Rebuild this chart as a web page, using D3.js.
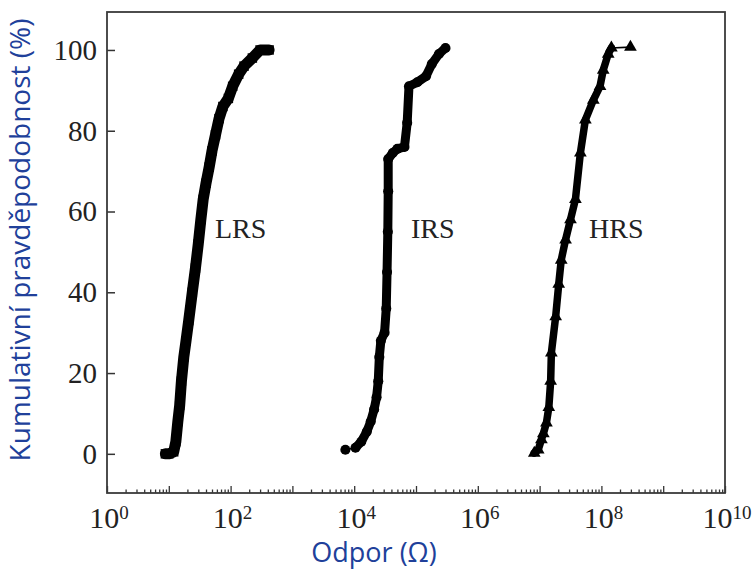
<!doctype html>
<html>
  <head>
    <meta charset="utf-8">
    <script src="https://cdn.jsdelivr.net/npm/d3@7"></script>
    <style>
      body { margin: 0; background: #fff; }
      .tick text { font-family: "Liberation Serif", "DejaVu Serif", serif; fill: #222; }
      .axis-title { font-family: "Open Sans", "Noto Sans", sans-serif; fill: #20409a; }
      .state { font-family: "Liberation Serif", serif; font-size: 28px; fill: #222; }
    </style>
  </head>
  <body>
    <script>
        // resistance (ohm) vs cumulative probability (%)
        var lrsR = [8.8, 10, 12, 13, 14, 15, 16, 17.5, 19, 21, 24, 27, 30, 33, 36, 40, 45, 50, 57, 65, 75, 92, 108, 135, 165, 225, 300, 420];
        var lrsP = [0, 0, 0.5, 3, 8, 12, 18, 24, 28, 33, 40, 46, 52, 58, 63, 67, 71, 75, 79, 83, 86, 88, 91, 94, 96, 98, 100, 100];

        var irsR = [7200, 10500, 13000, 16000, 18500, 21000, 23000, 24500, 25500, 27000, 31000, 33000, 34000, 35000, 35500, 35500, 42000, 50000, 65000, 72000, 77000, 105000, 145000, 180000, 235000, 300000];
        var irsP = [1, 1.5, 3, 5.5, 8, 11, 14, 18, 24, 28, 30, 36, 45, 55, 65, 73, 74.5, 75.5, 76, 82, 91, 92, 93.5, 96.5, 99, 100.5];

        var hrsR = [8.2e6, 9.5e6, 1.07e7, 1.15e7, 1.29e7, 1.41e7, 1.51e7, 1.55e7, 1.82e7, 2.04e7, 2.24e7, 2.63e7, 3.16e7, 3.8e7, 4.57e7, 5.5e7, 7.4e7, 9.5e7, 1.07e8, 1.29e8, 1.45e8, 2.95e8];
        var hrsP = [0.2, 1, 3.5, 5, 7.7, 11.5, 18, 25, 34, 42, 48, 53, 58, 63, 74.5, 82.7, 87.6, 91, 95, 99, 100.5, 100.7];

        var yTicks = [0, 20, 40, 60, 80, 100];
        var xLabelExp = [0, 2, 4, 6, 8, 10];

        var width = 755, height = 571;
        var svg = d3.select("body").append("svg")
            .attr("width", width)
            .attr("height", height);

        var x = d3.scaleLog().domain([1, 1e10]).range([107, 725]);
        var y = d3.scaleLinear().domain([-9.7, 109.4]).range([493, 12]);

        // x axis: a tick at every 1..9 x 10^k, pointing inwards
        var xTickVals = [];
        for (var k = 0; k < 10; k++) {
            for (var m = 1; m < 10; m++) xTickVals.push(m * Math.pow(10, k));
        }
        xTickVals.push(1e10);

        var gx = svg.append("g")
            .attr("transform", "translate(0,493)")
            .call(d3.axisBottom(x).tickValues(xTickVals).tickSize(-7).tickFormat(""));
        gx.select(".domain").remove();
        gx.selectAll(".tick line")
            .attr("stroke", "#333")
            .attr("stroke-width", 1.3)
            .attr("y2", d => (Math.abs(Math.log10(d) % 1) < 1e-9) ? -7 : -3.5);

        // x tick labels 10^n
        var xl = svg.append("g").selectAll("text")
            .data(xLabelExp)
            .enter().append("text")
            .attr("x", d => x(Math.pow(10, d)) + 2)
            .attr("y", 528)
            .attr("text-anchor", "middle")
            .style("font-family", "'Liberation Serif', serif")
            .style("font-size", "30px")
            .attr("fill", "#222");
        xl.append("tspan").text("10");
        xl.append("tspan")
            .attr("dy", "-0.5em")
            .style("font-size", "19px")
            .text(d => d);

        var gy = svg.append("g")
            .attr("transform", "translate(107,0)")
            .call(d3.axisLeft(y).tickValues(yTicks).tickSize(-8));
        gy.select(".domain").remove();
        gy.selectAll(".tick line").attr("stroke", "#333").attr("stroke-width", 1.5);
        gy.selectAll(".tick text")
            .attr("x", -10)
            .style("font-size", "29px");

        // frame
        svg.append("rect")
            .attr("x", 107).attr("y", 12)
            .attr("width", 725 - 107).attr("height", 493 - 12)
            .attr("fill", "none")
            .attr("stroke", "#3a3a3a")
            .attr("stroke-width", 1.8);

        var series = [
            { name: "LRS", r: lrsR, p: lrsP, shape: d3.symbolSquare, size: 90, body: [0, lrsR.length], width: 11, label: [215, 238] },
            { name: "IRS", r: irsR, p: irsP, shape: d3.symbolCircle, size: 80, body: [1, irsR.length], width: 9, label: [411, 238] },
            { name: "HRS", r: hrsR, p: hrsP, shape: d3.symbolTriangle, size: 70, body: [0, hrsR.length - 1], width: 7.5, label: [589, 238] }
        ];

        var line = d3.line()
            .x(d => x(d[0]))
            .y(d => y(d[1]));

        series.forEach(function(s) {
            var pts = s.r.map((r, i) => [r, s.p[i]]);
            var g = svg.append("g");

            g.append("path")
                .attr("d", line(pts))
                .attr("fill", "none")
                .attr("stroke", "#000")
                .attr("stroke-width", 1.6);

            g.append("path")
                .attr("d", line(pts.slice(s.body[0], s.body[1])))
                .attr("fill", "none")
                .attr("stroke", "#000")
                .attr("stroke-width", s.width)
                .attr("stroke-linejoin", "round")
                .attr("stroke-linecap", "round");

            g.selectAll(".pt")
                .data(pts)
                .enter().append("path")
                .attr("class", "pt")
                .attr("transform", d => `translate(${x(d[0])},${y(d[1])})`)
                .attr("d", d3.symbol().type(s.shape).size(s.size))
                .attr("fill", "#000");

            svg.append("text")
                .attr("class", "state")
                .attr("x", s.label[0])
                .attr("y", s.label[1])
                .text(s.name);
        });

        // axis titles
        svg.append("text")
            .attr("class", "axis-title")
            .attr("transform", "translate(30,240) rotate(-90)")
            .attr("text-anchor", "middle")
            .style("font-size", "28px")
            .text("Kumulativní pravděpodobnost (%)");

        svg.append("text")
            .attr("class", "axis-title")
            .attr("x", 374)
            .attr("y", 562)
            .attr("text-anchor", "middle")
            .style("font-size", "27px")
            .text("Odpor (Ω)");
    </script>
  </body>
</html>
